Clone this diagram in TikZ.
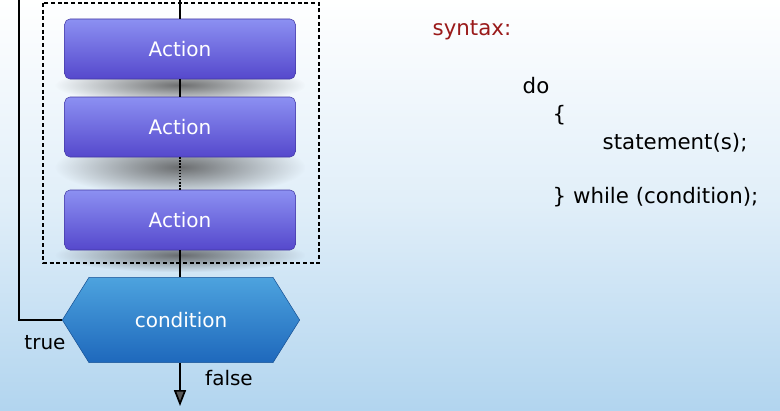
\documentclass[tikz,border=0pt]{standalone}
\usepackage{fontspec}
\setmainfont{DejaVu Sans}
\usetikzlibrary{positioning, shapes.geometric, shapes.symbols, fadings, arrows.meta}
\definecolor{bgblue}{HTML}{B2D5EF}
\definecolor{actop}{HTML}{8C90F2}
\definecolor{acbot}{HTML}{5548CC}
\definecolor{cotop}{HTML}{4DA3DE}
\definecolor{cobot}{HTML}{1E68BC}
\definecolor{synred}{HTML}{9A1A1A}
\tikzfading[name=shfade, inner color=transparent!20, outer color=transparent!100]
\begin{document}
\begin{tikzpicture}[x=0.75pt, y=-0.75pt,
		action/.style={draw=acbot!80!black, rounded corners=4pt, minimum width=173pt, minimum height=45pt,
			top color=actop, bottom color=acbot, text=white, font=\fontsize{15}{18}\selectfont},
		cond/.style={shape=signal, signal to=west and east, signal pointer angle=116, draw=cobot!80!black,
			minimum width=178pt, minimum height=64pt, inner sep=0pt,
			top color=cotop, bottom color=cobot, text=white, font=\fontsize{15}{18}\selectfont},
		code/.style={anchor=west, font=\fontsize{16}{19}\selectfont},
		lab/.style={font=\fontsize{15}{18}\selectfont},
		link/.style={line width=1.3pt},
		shadowbar/.style={fill=black!70, path fading=shfade, fit fading=true}
		]
		% background
		\shade[top color=white, bottom color=bgblue, middle color=white!60!bgblue] (0,0) rectangle (780,410);
		\useasboundingbox (0,0) rectangle (780,410);
		
		% shadows under the action boxes
		\fill[shadowbar] (55,66) rectangle (305,104);
		\fill[shadowbar] (55,138) rectangle (305,196);
		\fill[shadowbar] (55,238) rectangle (305,272);
		
		% dashed block
		\draw[densely dashed, thick] (43,3) rectangle (319,263);
		
		% action nodes
		\node[action] (act1) at (180,49) {Action};
		\node[action] (act2) at (180,127) {Action};
		\node[action] (act3) at (180,220) {Action};
		
		% condition
		\node[cond] (cnd) at (181,320) {condition};
		
		\coordinate (top) at (180,0);
		\coordinate (loopc) at (19,320);
		\coordinate (looptop) at (19,0);
		\coordinate (endp) at (180,406);
		
		% connectors
		\draw[link] (top) -- (act1.north);
		\draw[link] (act1.south) -- (act2.north);
		\draw[link, densely dotted] (act2.south) -- (act3.north);
		\draw[link] (act3.south) -- (act3.south |- cnd.north);
		\draw[link] (cnd.west) -- (loopc) -- (looptop);
		\draw[link, -{Triangle[width=9pt,length=12pt,fill=black!65]}] (endp |- cnd.south) -- (endp);
		
		\node[lab] (tlab) at (45,343) {true};
		\node[lab] (flab) at (229,378) {false};
		
		% syntax text
		\node[code, text=synred] (syn) at (428,30) {syntax:};
		\node[code] (kdo) at (518,86) {do};
		\node[code] (kopen) at (548,115) {\{};
		\node[code] (stmt) at (598,143) {statement(s);};
		\node[code] (kwhile) at (548,197) {\} while (condition);};
	\end{tikzpicture}
\end{document}
